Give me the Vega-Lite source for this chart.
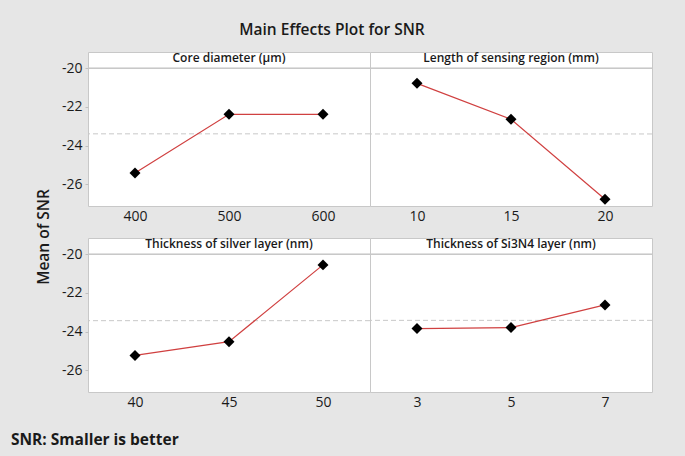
{
  "$schema": "https://vega.github.io/schema/vega-lite/v6.json",
  "padding": {"left": 10, "top": 23, "right": 33, "bottom": 9},
  "background": "#e6e6e6",
  "datasets": {
    "main": [
      {"factor": "Core diameter (µm)", "level": 400, "snr": -25.41},
      {"factor": "Core diameter (µm)", "level": 500, "snr": -22.38},
      {"factor": "Core diameter (µm)", "level": 600, "snr": -22.38},
      {"factor": "Length of sensing region (mm)", "level": 10, "snr": -20.78},
      {"factor": "Length of sensing region (mm)", "level": 15, "snr": -22.64},
      {"factor": "Length of sensing region (mm)", "level": 20, "snr": -26.77},
      {"factor": "Thickness of silver layer (nm)", "level": 40, "snr": -25.23},
      {"factor": "Thickness of silver layer (nm)", "level": 45, "snr": -24.52},
      {"factor": "Thickness of silver layer (nm)", "level": 50, "snr": -20.55},
      {"factor": "Thickness of Si3N4 layer (nm)", "level": 3, "snr": -23.84},
      {"factor": "Thickness of Si3N4 layer (nm)", "level": 5, "snr": -23.79},
      {"factor": "Thickness of Si3N4 layer (nm)", "level": 7, "snr": -22.62}
    ]
  },
  "title": {"text": "Main Effects Plot for SNR", "fontSize": 15.5, "fontWeight": 600, "font": "Open Sans", "color": "#1a1a1a", "anchor": "middle", "frame": "bounds", "baseline": "alphabetic", "offset": 1},
  "vconcat": [
    {
      "title": {"text": "SNR: Smaller is better", "orient": "bottom", "anchor": "start", "frame": "bounds", "fontSize": 15.5, "fontWeight": "bold", "font": "Open Sans", "color": "#1a1a1a", "baseline": "alphabetic", "offset": 35, "dx": -25},
      "bounds": "flush",
      "columns": 2,
      "spacing": {"row": 32, "column": 0},
      "concat": [
        {
          "width": 282, "height": 154,
          "data": {"name": "main"},
          "transform": [{"filter": "datum.factor === 'Core diameter (µm)'"}],
          "title": {"text": "Core diameter (µm)", "fontSize": 12, "fontWeight": 600, "font": "Open Sans", "color": "#1a1a1a", "anchor": "middle", "baseline": "alphabetic", "offset": -22},
          "encoding": {
            "y": {"field": "snr", "type": "quantitative", "scale": {"domain": [-27.12, -19.16], "nice": false, "zero": false},
              "axis": {"values": [-26, -24, -22, -20], "title": "Mean of SNR", "titleFontSize": 15.5, "titleFontWeight": 600, "titleFont": "Open Sans", "titleColor": "#1a1a1a", "titleY": 184.5, "titleAlign": "center", "titlePadding": 10}}
          },
          "layer": [
            {"mark": {"type": "rule", "color": "#c8c8c8", "strokeWidth": 1}, "encoding": {"y": {"datum": -20}}},
            {"mark": {"type": "rule", "color": "#c8c8c8", "strokeWidth": 1, "strokeDash": [5, 3]}, "encoding": {"y": {"aggregate": "mean", "field": "snr"}}},
            {"mark": {"type": "line", "color": "#d04040", "strokeWidth": 1.2}, "encoding": {"x": {"field": "level", "type": "ordinal", "scale": {"type": "point", "padding": 0.5}, "axis": {"title": null, "labelAngle": 0, "ticks": false, "labelPadding": 3}}}},
            {"mark": {"type": "point", "shape": "diamond", "filled": true, "color": "#000000", "opacity": 1, "size": 120}, "encoding": {"x": {"field": "level", "type": "ordinal"}}}
          ]
        },
        {
          "width": 282, "height": 154,
          "data": {"name": "main"},
          "transform": [{"filter": "datum.factor === 'Length of sensing region (mm)'"}],
          "title": {"text": "Length of sensing region (mm)", "fontSize": 12, "fontWeight": 600, "font": "Open Sans", "color": "#1a1a1a", "anchor": "middle", "baseline": "alphabetic", "offset": -22},
          "encoding": {
            "y": {"field": "snr", "type": "quantitative", "scale": {"domain": [-27.12, -19.16], "nice": false, "zero": false}, "axis": null}
          },
          "layer": [
            {"mark": {"type": "rule", "color": "#c8c8c8", "strokeWidth": 1}, "encoding": {"y": {"datum": -20}}},
            {"mark": {"type": "rule", "color": "#c8c8c8", "strokeWidth": 1, "strokeDash": [5, 3]}, "encoding": {"y": {"aggregate": "mean", "field": "snr"}}},
            {"mark": {"type": "line", "color": "#d04040", "strokeWidth": 1.2}, "encoding": {"x": {"field": "level", "type": "ordinal", "scale": {"type": "point", "padding": 0.5}, "axis": {"title": null, "labelAngle": 0, "ticks": false, "labelPadding": 3}}}},
            {"mark": {"type": "point", "shape": "diamond", "filled": true, "color": "#000000", "opacity": 1, "size": 120}, "encoding": {"x": {"field": "level", "type": "ordinal"}}}
          ]
        },
        {
          "width": 282, "height": 154,
          "data": {"name": "main"},
          "transform": [{"filter": "datum.factor === 'Thickness of silver layer (nm)'"}],
          "title": {"text": "Thickness of silver layer (nm)", "fontSize": 12, "fontWeight": 600, "font": "Open Sans", "color": "#1a1a1a", "anchor": "middle", "baseline": "alphabetic", "offset": -22},
          "encoding": {
            "y": {"field": "snr", "type": "quantitative", "scale": {"domain": [-27.12, -19.16], "nice": false, "zero": false},
              "axis": {"values": [-26, -24, -22, -20], "title": null}}
          },
          "layer": [
            {"mark": {"type": "rule", "color": "#c8c8c8", "strokeWidth": 1}, "encoding": {"y": {"datum": -20}}},
            {"mark": {"type": "rule", "color": "#c8c8c8", "strokeWidth": 1, "strokeDash": [5, 3]}, "encoding": {"y": {"aggregate": "mean", "field": "snr"}}},
            {"mark": {"type": "line", "color": "#d04040", "strokeWidth": 1.2}, "encoding": {"x": {"field": "level", "type": "ordinal", "scale": {"type": "point", "padding": 0.5}, "axis": {"title": null, "labelAngle": 0, "ticks": false, "labelPadding": 3}}}},
            {"mark": {"type": "point", "shape": "diamond", "filled": true, "color": "#000000", "opacity": 1, "size": 120}, "encoding": {"x": {"field": "level", "type": "ordinal"}}}
          ]
        },
        {
          "width": 282, "height": 154,
          "data": {"name": "main"},
          "transform": [{"filter": "datum.factor === 'Thickness of Si3N4 layer (nm)'"}],
          "title": {"text": "Thickness of Si3N4 layer (nm)", "fontSize": 12, "fontWeight": 600, "font": "Open Sans", "color": "#1a1a1a", "anchor": "middle", "baseline": "alphabetic", "offset": -22},
          "encoding": {
            "y": {"field": "snr", "type": "quantitative", "scale": {"domain": [-27.12, -19.16], "nice": false, "zero": false}, "axis": null}
          },
          "layer": [
            {"mark": {"type": "rule", "color": "#c8c8c8", "strokeWidth": 1}, "encoding": {"y": {"datum": -20}}},
            {"mark": {"type": "rule", "color": "#c8c8c8", "strokeWidth": 1, "strokeDash": [5, 3]}, "encoding": {"y": {"aggregate": "mean", "field": "snr"}}},
            {"mark": {"type": "line", "color": "#d04040", "strokeWidth": 1.2}, "encoding": {"x": {"field": "level", "type": "ordinal", "scale": {"type": "point", "padding": 0.5}, "axis": {"title": null, "labelAngle": 0, "ticks": false, "labelPadding": 3}}}},
            {"mark": {"type": "point", "shape": "diamond", "filled": true, "color": "#000000", "opacity": 1, "size": 120}, "encoding": {"x": {"field": "level", "type": "ordinal"}}}
          ]
        }
      ]
    }
  ],
  "config": {
    "view": {"stroke": "#c8c8c8", "strokeWidth": 1, "fill": "#ffffff"},
    "font": "Open Sans",
    "axis": {"labelFont": "Open Sans", "labelFontSize": 14, "labelColor": "#1a1a1a", "grid": false, "domain": false, "tickColor": "#c0c0c0", "tickSize": 3, "labelPadding": 3, "labelExpr": "replace(datum.label, '−', '-')"}
  }
}
